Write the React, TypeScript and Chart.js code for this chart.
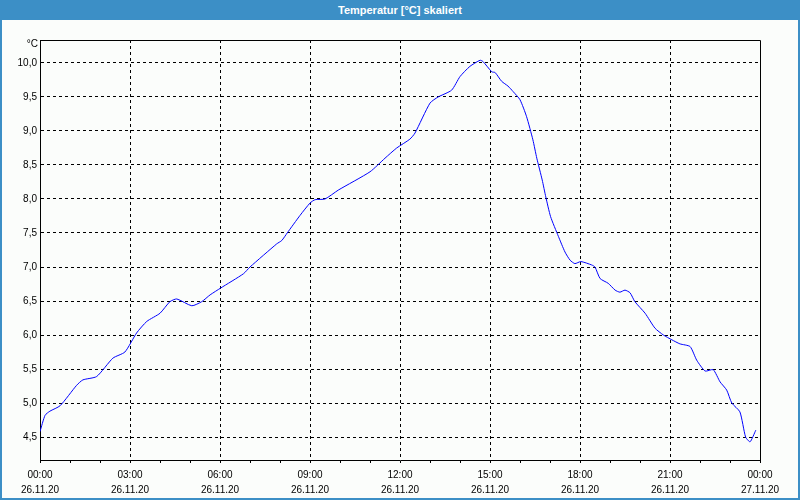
import React, { useEffect, useRef } from "react";
import { Chart, registerables } from "chart.js";

Chart.register(...registerables);

const TITLE = "Temperatur [°C] skaliert";
const UNIT = "°C";

const hours = [
  0, 0.17, 0.33, 0.67, 1.22, 1.43, 1.89, 2.43, 2.83, 3.22, 3.56, 4.0, 4.33, 4.56, 5.06, 5.39, 5.67, 6.02,
  6.78, 7.0, 7.89, 8.06, 8.24, 8.67, 9.0, 9.17, 9.5, 9.94, 11.0, 11.5, 11.89, 12.33, 12.5, 13.0, 13.27, 13.72, 14.0, 14.33,
  14.67, 14.77, 15.06, 15.17, 15.39, 15.6, 15.77, 16.0, 16.22, 16.43, 16.56, 16.74, 16.86, 17.02, 17.28,
  17.5, 17.67, 17.83, 18.03, 18.39, 18.5, 18.67, 18.94, 19.17, 19.33, 19.5, 19.67, 19.83, 20.17, 20.5,
  20.78, 21.06, 21.33, 21.67, 21.89, 22.17, 22.44, 22.67, 22.89, 23.06, 23.33, 23.52, 23.67, 23.86,
];

const temps = [
  4.58, 4.82, 4.88, 4.96, 5.26, 5.34, 5.39, 5.66, 5.75, 6.03, 6.2, 6.32, 6.49, 6.53, 6.43, 6.49, 6.59, 6.69,
  6.9, 7.0, 7.34, 7.39, 7.5, 7.76, 7.94, 7.99, 8.0, 8.13, 8.4, 8.6, 8.75, 8.88, 8.97, 9.41, 9.5, 9.6, 9.8, 9.95,
  10.04, 10.02, 9.87, 9.86, 9.73, 9.66, 9.58, 9.46, 9.21, 8.87, 8.6, 8.28, 8.03, 7.74, 7.45,
  7.22, 7.1, 7.05, 7.08, 7.03, 7.0, 6.83, 6.76, 6.66, 6.63, 6.66, 6.62, 6.49, 6.32, 6.1,
  6.0, 5.93, 5.87, 5.83, 5.63, 5.47, 5.49, 5.31, 5.19, 5.0, 4.87, 4.5, 4.43, 4.6,
];

const xTickTimes = ["00:00", "03:00", "06:00", "09:00", "12:00", "15:00", "18:00", "21:00", "00:00"];
const xTickDates = ["26.11.20", "26.11.20", "26.11.20", "26.11.20", "26.11.20", "26.11.20", "26.11.20", "26.11.20", "27.11.20"];

const X_MIN = 0;
const X_MAX = 24;
const Y_MIN = 4.162;
const Y_MAX = 10.338;

const FONT = "'Liberation Sans', Arial, sans-serif";

const framePlugin = {
  id: "frame",
  afterDraw(chart: any) {
    const { ctx, chartArea } = chart;
    ctx.save();
    ctx.strokeStyle = "#000";
    ctx.lineWidth = 1;
    ctx.beginPath();
    ctx.moveTo(chartArea.left, chartArea.top + 0.5);
    ctx.lineTo(chartArea.right + 0.5, chartArea.top + 0.5);
    ctx.lineTo(chartArea.right + 0.5, chartArea.bottom);
    ctx.stroke();
    ctx.fillStyle = "#000";
    ctx.font = "10px " + FONT;
    ctx.textAlign = "right";
    ctx.textBaseline = "middle";
    ctx.fillText(UNIT, chartArea.left - 2, chartArea.top + 4);
    ctx.restore();
  },
};

export default function App() {
  const ref = useRef<HTMLCanvasElement>(null);

  useEffect(() => {
    document.body.style.margin = "0";
    const canvas = ref.current;
    if (!canvas) return;
    const chart = new Chart(canvas, {
      type: "line",
      data: {
        datasets: [
          {
            data: hours.map((h, i) => ({ x: h, y: temps[i] })),
            borderColor: "#0000ff",
            borderWidth: 1,
            pointRadius: 0,
            tension: 0.2,
            fill: false,
          },
        ],
      },
      options: {
        animation: false,
        responsive: false,
        maintainAspectRatio: false,
        devicePixelRatio: 1,
        layout: { padding: { top: 40, right: 40, left: 0, bottom: 0 } },
        plugins: { legend: { display: false }, tooltip: { enabled: false }, title: { display: false } },
        scales: {
          x: {
            type: "linear",
            min: X_MIN,
            max: X_MAX,
            afterFit: (s: any) => {
              s.height = 40;
            },
            ticks: {
              stepSize: 1,
              autoSkip: false,
              maxRotation: 0,
              color: "#000",
              padding: 5,
              font: { family: FONT, size: 10, lineHeight: 1.5 },
              callback: (v: any) => {
                const n = Number(v);
                if (n % 3 !== 0) return "";
                const i = n / 3;
                return [xTickTimes[i], xTickDates[i]];
              },
            },
            grid: {
              drawOnChartArea: true,
              color: (c: any) => {
                const v = c.tick ? c.tick.value : 0;
                return v % 3 === 0 && v > X_MIN && v < X_MAX ? "#000" : "rgba(0,0,0,0)";
              },
              tickColor: "#000",
              tickLength: 3,
              tickBorderDash: [],
            },
            border: { display: true, color: "#000", width: 1, dash: [3, 3] },
          },
          y: {
            type: "linear",
            min: Y_MIN,
            max: Y_MAX,
            afterFit: (s: any) => {
              s.width = 40;
            },
            ticks: {
              stepSize: 0.5,
              includeBounds: false,
              color: "#000",
              padding: 3,
              font: { family: FONT, size: 10 },
              callback: (v: any) => Number(v).toFixed(1).replace(".", ","),
            },
            grid: {
              color: "#000",
              drawTicks: false,
              tickLength: 0,
            },
            border: { display: true, color: "#000", width: 1, dash: [3, 3] },
          },
        },
      } as any,
      plugins: [framePlugin],
    });
    return () => chart.destroy();
  }, []);

  return (
    <div
      style={{
        position: "relative",
        width: 800,
        height: 500,
        background: "#3c8fc6",
        boxSizing: "border-box",
      }}
    >
      <div
        style={{
          position: "absolute",
          left: 0,
          top: 0,
          width: 800,
          height: 20,
          color: "#fff",
          fontFamily: FONT,
          fontWeight: "bold",
          fontSize: 11,
          lineHeight: "20px",
          textAlign: "center",
        }}
      >
        {TITLE}
      </div>
      <div
        style={{
          position: "absolute",
          left: 2,
          top: 20,
          width: 796,
          height: 478,
          background: "#fbfdfb",
        }}
      />
      <canvas ref={ref} width={800} height={500} style={{ position: "absolute", left: 0, top: 0, width: 800, height: 500 }} />
    </div>
  );
}
